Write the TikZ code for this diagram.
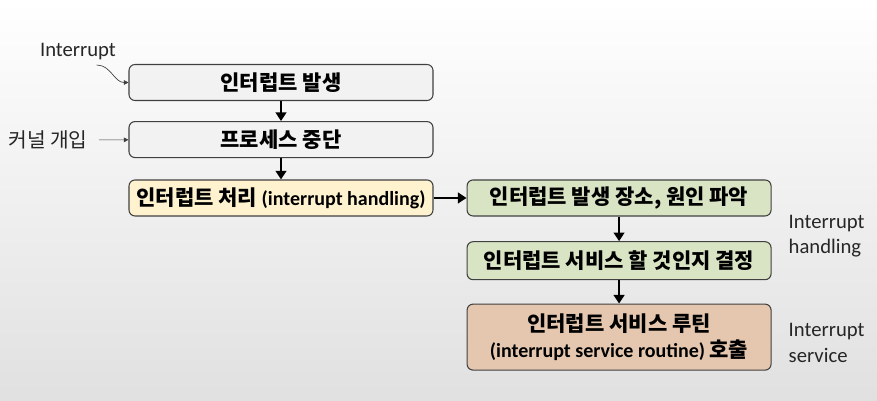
\documentclass[tikz,border=0pt]{standalone}
\usepackage{fontspec}
\setmainfont{Carlito}
\newfontfamily\krfont{Noto Sans CJK KR}[Scale=1.05]
\newcommand{\kr}[1]{{\krfont #1}}
\usepackage{tikz}
\usetikzlibrary{arrows.meta, positioning}
\definecolor{boxGray}{RGB}{242, 242, 242}
\definecolor{boxYellow}{RGB}{255, 242, 206}
\definecolor{boxGreen}{RGB}{216, 228, 196}
\definecolor{boxTan}{RGB}{229, 199, 176}
\definecolor{edgeGray}{RGB}{64, 64, 64}

\begin{document}
\begin{tikzpicture}[x=0.75pt, y=-0.75pt, node distance=16pt,
    stepbox/.style={rectangle, rounded corners=4.5pt, draw=edgeGray, line width=0.8pt, minimum width=228pt, minimum height=27pt, inner xsep=2pt, text centered, align=center, font=\fontsize{15}{19.5}\selectfont\bfseries},
    flow/.style={-{Triangle[length=6.5pt, width=8pt]}, line width=2pt},
    note/.style={font=\fontsize{15.5}{19}\selectfont, text=black!85, align=left},
    hint/.style={-{Triangle[length=3.5pt, width=3.5pt]}, line width=0.5pt, draw=black!75}]

    % slide background
    \shade[top color=white, middle color=white, bottom color=black!12] (0,0) rectangle (877,400);
    \useasboundingbox (0,0) rectangle (877,400);

    \node[stepbox, fill=boxGray] (b1) at (281,82.5) {\kr{인터럽트 발생}};
    \node[stepbox, fill=boxGray, below=15pt of b1] (b2) {\kr{프로세스 중단}};
    \node[stepbox, fill=boxYellow, below=16pt of b2] (b3) {\kr{인터럽트 처리} (interrupt handling)};
    \node[stepbox, fill=boxGreen, right=24.75pt of b3] (b4) {\kr{인터럽트 발생 장소, 원인 파악}};
    \node[stepbox, fill=boxGreen, below=18.5pt of b4, minimum height=28.5pt] (b5) {\kr{인터럽트 서비스 할 것인지 결정}};
    \node[stepbox, fill=boxTan, below=17.5pt of b5, minimum height=49.5pt] (b6) {\kr{인터럽트 서비스 루틴}\\(interrupt service routine) \kr{호출}};

    \draw[flow] (b1) -- (b2);
    \draw[flow] (b2) -- (b3);
    \draw[flow] (b3) -- (b4);
    \draw[flow] (b4) -- (b5);
    \draw[flow] (b5) -- (b6);

    % side notes
    \node[note] (intnote) at (78,52) {Interrupt};
    \node[note, font=\fontsize{14.5}{18}\selectfont\krfont] (kernote) at (48,140) {커널 개입};
    \node[note, anchor=west] (hdlnote) at (784,236) {Interrupt\\handling};
    \node[note, anchor=west] (srvnote) at (784,343) {Interrupt\\service};

    \draw[hint] ([xshift=14pt]intnote.south) to[out=0, in=180] (b1.west);
    \draw[hint, shorten <=5pt] (kernote) -- (b2);

\end{tikzpicture}
\end{document}
